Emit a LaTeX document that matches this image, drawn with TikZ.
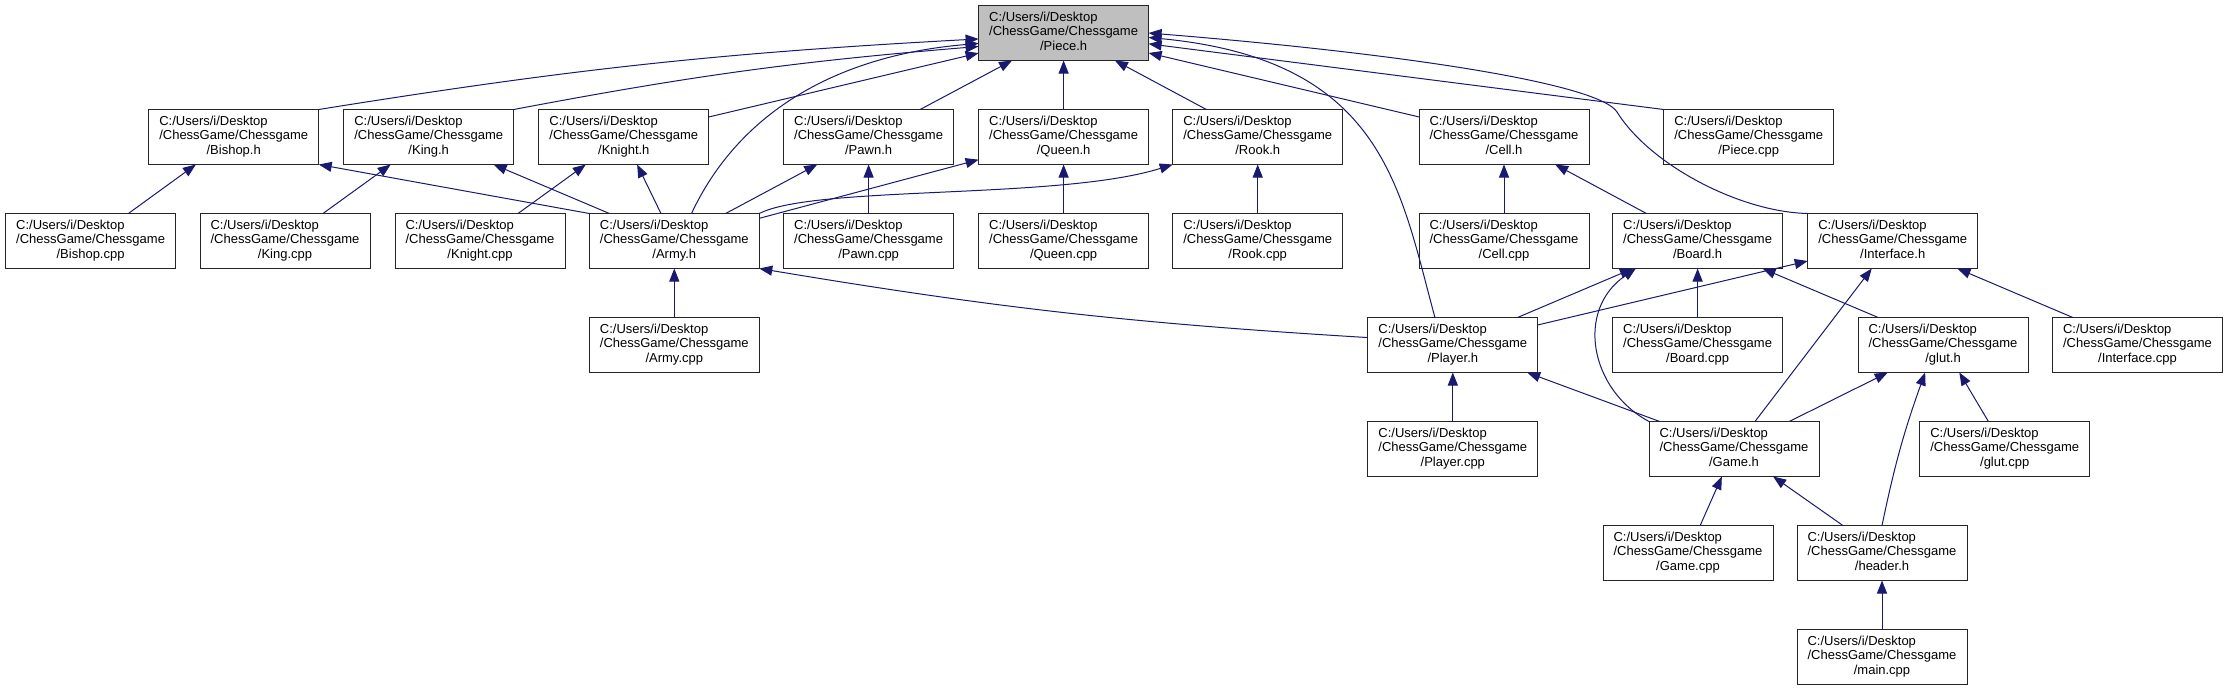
\documentclass[tikz,border=0pt]{standalone}
\usepackage{fontspec}
\setmainfont{Liberation Sans}
\usetikzlibrary{arrows.meta,positioning}
\definecolor{midnightblue}{rgb}{0.10,0.10,0.44}
\definecolor{grey75}{rgb}{0.75,0.75,0.75}
\newcommand{\rutafichero}[1]{\begin{tabular}{@{}l@{}}C:/Users/i/Desktop\\/ChessGame/Chessgame\\\multicolumn{1}{@{}c@{}}{/#1}\end{tabular}}
\tikzset{
  fichero/.style={
    draw=black!85,
    fill=white,
    line width=0.9pt,
    minimum width=170pt,
    minimum height=55pt,
    inner sep=0pt,
    outer sep=0pt,
    font=\fontsize{13}{14.5}\selectfont
  },
  actual/.style={
    fichero,
    fill=grey75
  },
  arrow/.style={
    -{Triangle[length=13pt,width=10pt]},
    line width=1pt,
    midnightblue
  }
}

\begin{document}
\begin{tikzpicture}[x=1pt,y=1pt,node distance=49pt]
\useasboundingbox (0,0) rectangle (2229,-691);
\node[actual] (pieceh) at (1063.6,-33) {\rutafichero{Piece.h}};
\node[fichero] (bishoph) at (233.7,-137) {\rutafichero{Bishop.h}};
\node[fichero] (kingh) at (428.7,-137) {\rutafichero{King.h}};
\node[fichero] (knighth) at (623.8,-137) {\rutafichero{Knight.h}};
\node[fichero] (pawnh) at (868.6,-137) {\rutafichero{Pawn.h}};
\node[fichero] (queenh) at (1063.6,-137) {\rutafichero{Queen.h}};
\node[fichero] (rookh) at (1257.7,-137) {\rutafichero{Rook.h}};
\node[fichero] (cellh) at (1504,-137) {\rutafichero{Cell.h}};
\node[fichero] (piececpp) at (1748.7,-137) {\rutafichero{Piece.cpp}};
\node[fichero] (bishopcpp) at (90.6,-241) {\rutafichero{Bishop.cpp}};
\node[fichero] (kingcpp) at (285,-241) {\rutafichero{King.cpp}};
\node[fichero] (knightcpp) at (480,-241) {\rutafichero{Knight.cpp}};
\node[fichero] (armyh) at (674.3,-241) {\rutafichero{Army.h}};
\node[fichero, below=of pawnh] (pawncpp) {\rutafichero{Pawn.cpp}};
\node[fichero, below=of queenh] (queencpp) {\rutafichero{Queen.cpp}};
\node[fichero, below=of rookh] (rookcpp) {\rutafichero{Rook.cpp}};
\node[fichero, below=of cellh] (cellcpp) {\rutafichero{Cell.cpp}};
\node[fichero] (boardh) at (1697.6,-241) {\rutafichero{Board.h}};
\node[fichero] (interfaceh) at (1892.7,-241) {\rutafichero{Interface.h}};
\node[fichero, below=of armyh] (armycpp) {\rutafichero{Army.cpp}};
\node[fichero] (playerh) at (1452.8,-345) {\rutafichero{Player.h}};
\node[fichero, below=of boardh] (boardcpp) {\rutafichero{Board.cpp}};
\node[fichero] (gluth) at (1943,-345) {\rutafichero{glut.h}};
\node[fichero] (interfacecpp) at (2137.5,-345) {\rutafichero{Interface.cpp}};
\node[fichero, below=of playerh] (playercpp) {\rutafichero{Player.cpp}};
\node[fichero] (gameh) at (1734,-449) {\rutafichero{Game.h}};
\node[fichero] (glutcpp) at (2004.7,-449) {\rutafichero{glut.cpp}};
\node[fichero] (gamecpp) at (1688,-553) {\rutafichero{Game.cpp}};
\node[fichero] (headerh) at (1882,-553) {\rutafichero{header.h}};
\node[fichero, below=of headerh] (maincpp) {\rutafichero{main.cpp}};
\draw[arrow] (bishoph.north east) to[bend left=3] (pieceh.184);
\draw[arrow] (kingh.north east) to[bend left=3] (pieceh.189);
\draw[arrow] (knighth) -- (pieceh);
\draw[arrow] (armyh.58) .. controls (740,-110) and (840,-55) .. (pieceh.187);
\draw[arrow] (pawnh) -- (pieceh);
\draw[arrow] (queenh) -- (pieceh);
\draw[arrow] (rookh) -- (pieceh);
\draw[arrow] (cellh) -- (pieceh);
\draw[arrow] (piececpp.north west) -- (pieceh);
\draw[arrow] (playerh.123) .. controls (1400,-190) and (1385,-60) .. (pieceh.357);
\draw[arrow] (interfaceh.north west) .. controls (1740,-212) and (1650,-165) .. (1617,-112)
  .. controls (1600,-85) and (1420,-55) .. (pieceh.east);
\draw[arrow] (bishopcpp) -- (bishoph);
\draw[arrow] (armyh.north west) -- (bishoph.south east);
\draw[arrow] (kingcpp) -- (kingh);
\draw[arrow] (armyh) -- (kingh);
\draw[arrow] (knightcpp) -- (knighth);
\draw[arrow] (armyh) -- (knighth);
\draw[arrow] (pawncpp) -- (pawnh);
\draw[arrow] (armyh) -- (pawnh);
\draw[arrow] (queencpp) -- (queenh);
\draw[arrow] (armyh) -- (queenh);
\draw[arrow] (rookcpp) -- (rookh);
\draw[arrow] (armyh.north east) .. controls (815,-185) and (1060,-200) .. (rookh.south west);
\draw[arrow] (cellcpp) -- (cellh);
\draw[arrow] (boardh) -- (cellh);
\draw[arrow] (armycpp) -- (armyh);
\draw[arrow] (playerh.175) to[bend left=3] (armyh.south east);
\draw[arrow] (boardcpp) -- (boardh);
\draw[arrow] (playerh) -- (boardh);
\draw[arrow] (gameh.north west) .. controls (1590,-390) and (1575,-310) .. (boardh.204);
\draw[arrow] (gluth) -- (boardh);
\draw[arrow] (interfacecpp) -- (interfaceh);
\draw[arrow] (playerh) -- (interfaceh);
\draw[arrow] (gameh) -- (interfaceh);
\draw[arrow] (playercpp) -- (playerh);
\draw[arrow] (gameh) -- (playerh);
\draw[arrow] (glutcpp) -- (gluth);
\draw[arrow] (gameh) -- (gluth);
\draw[arrow] (headerh.north) to[bend left=4] (gluth.237);
\draw[arrow] (gamecpp) -- (gameh);
\draw[arrow] (headerh) -- (gameh);
\draw[arrow] (maincpp) -- (headerh);
\end{tikzpicture}
\end{document}
